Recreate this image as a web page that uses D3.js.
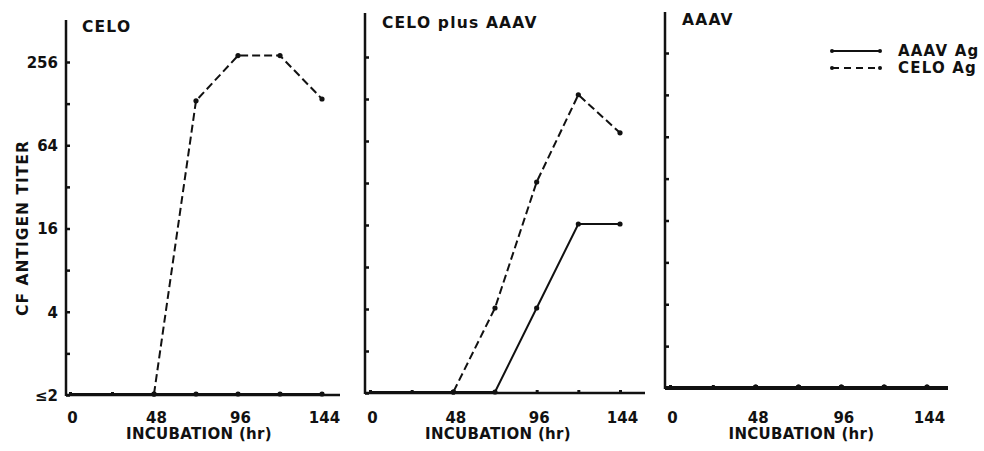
<!DOCTYPE html>
<html>
<head>
<meta charset="utf-8">
<script src="https://cdn.jsdelivr.net/npm/d3@7"></script>
<style>
  body { margin: 0; background: #fff; }
  text { font-family: 'DejaVu Sans', sans-serif; font-weight: bold; fill: #111; }
</style>
</head>
<body>
<div id="container"></div>
<script>
// titer values, 1 stands for "<=2"
const hours = [0, 24, 48, 72, 96, 120, 144];
const celoCeloAg = [1, 1, 1, 132, 280, 280, 136];
const celoAaavAg = [1, 1, 1, 1, 1, 1, 1];
const mixCeloAg = [1, 1, 1, 4, 32, 135, 72];
const mixAaavAg = [1, 1, 1, 1, 4, 16, 16];
const aaavCeloAg = [1, 1, 1, 1, 1, 1, 1];
const aaavAaavAg = [1, 1, 1, 1, 1, 1, 1];
const yTickValues = [1, 2, 4, 8, 16, 32, 64, 128, 256];
const yTickLabels = { 1: '\u22642', 4: '4', 16: '16', 64: '64', 256: '256' };
const xLabelValues = [0, 48, 96, 144];
const xMarkValues = [0, 24, 48, 72, 96, 120, 144];
const panelTitles = ['CELO', 'CELO plus AAAV', 'AAAV'];
const legendLabels = ['AAAV Ag', 'CELO Ag'];

const w = 984;
const h = 451;

const panels = [
  { title: panelTitles[0], celo: celoCeloAg, aaav: celoAaavAg,
    ax: 66, top: 20, base: 395, y256: 62, x0: 70, x144: 322, xEnd: 340, tx: 82, ty: 32, labels: true, bw: 2.5 },
  { title: panelTitles[1], celo: mixCeloAg, aaav: mixAaavAg,
    ax: 365, top: 13, base: 393, y256: 57, x0: 370, x144: 620, xEnd: 645, tx: 382, ty: 28, labels: false, bw: 2.5 },
  { title: panelTitles[2], celo: aaavCeloAg, aaav: aaavAaavAg,
    ax: 665, top: 12, base: 388, y256: 53, x0: 670, x144: 927, xEnd: 948, tx: 682, ty: 25, labels: false, bw: 4 }
];

const svg = d3.select('#container')
  .append('svg')
  .attr('width', w)
  .attr('height', h);

panels.forEach(p => {
  const x = d3.scaleLinear().domain([0, 144]).range([p.x0, p.x144]);
  const y = d3.scaleLog().base(2).domain([1, 256]).range([p.base, p.y256]);
  const g = svg.append('g');

  // axis lines
  g.append('line')
    .attr('x1', p.ax).attr('x2', p.ax)
    .attr('y1', p.top).attr('y2', p.base + 1)
    .attr('stroke', '#111').attr('stroke-width', 2.5);
  g.append('line')
    .attr('x1', p.ax).attr('x2', p.xEnd)
    .attr('y1', p.base).attr('y2', p.base)
    .attr('stroke', '#111').attr('stroke-width', p.bw);

  // y ticks
  const yAxis = d3.axisLeft(y)
    .tickValues(yTickValues)
    .tickSizeInner(-4)
    .tickSizeOuter(0)
    .tickPadding(8)
    .tickFormat(d => (p.labels && yTickLabels[d]) ? yTickLabels[d] : '');
  const ya = g.append('g')
    .attr('transform', `translate(${p.ax},0)`)
    .call(yAxis);
  ya.select('.domain').remove();
  ya.selectAll('line').attr('stroke', '#111').attr('stroke-width', 2.5);
  ya.selectAll('text').style('font-size', '15px').attr('dy', '0.36em');

  // x ticks
  const xMarks = d3.axisBottom(x).tickValues(xMarkValues).tickSize(-3).tickFormat('');
  const xm = g.append('g').attr('transform', `translate(0,${p.base})`).call(xMarks);
  xm.select('.domain').remove();
  xm.selectAll('line').attr('stroke', '#111').attr('stroke-width', 3);

  const xAxis = d3.axisBottom(x).tickValues(xLabelValues).tickSize(0).tickPadding(0);
  const xa = g.append('g').attr('transform', 'translate(0,412)').call(xAxis);
  xa.select('.domain').remove();
  xa.selectAll('text').style('font-size', '15px').attr('dx', 2);

  g.append('text')
    .attr('x', (p.x0 + p.x144) / 2 + 3)
    .attr('y', 439)
    .attr('text-anchor', 'middle')
    .style('font-size', '15px')
    .style('letter-spacing', '0.3px')
    .text('INCUBATION (hr)');

  g.append('text')
    .attr('x', p.tx)
    .attr('y', p.ty)
    .style('font-size', '15.5px')
    .style('letter-spacing', '1.2px')
    .text(p.title);

  const line = d3.line().x(d => x(d[0])).y(d => y(d[1]) - 1);
  const series = [
    { vals: p.aaav, dash: null },
    { vals: p.celo, dash: '8,4' }
  ];
  series.forEach(s => {
    const pts = hours.map((hr, i) => [hr, s.vals[i]]);
    g.append('path')
      .datum(pts)
      .attr('d', line)
      .attr('fill', 'none')
      .attr('stroke', '#111')
      .attr('stroke-width', 2)
      .attr('stroke-dasharray', s.dash);
    g.selectAll(null)
      .data(pts.filter(d => d[1] > 1 || d[0] >= 48))
      .enter()
      .append('circle')
      .attr('cx', d => x(d[0]))
      .attr('cy', d => y(d[1]) - 1)
      .attr('r', 2.6)
      .attr('fill', '#111');
  });
});

// y title
svg.append('text')
  .attr('transform', 'translate(28,228) rotate(-90)')
  .attr('text-anchor', 'middle')
  .style('font-size', '15.5px')
  .style('letter-spacing', '1px')
  .text('CF ANTIGEN TITER');

// legend
const legend = svg.selectAll('.legend')
  .data(legendLabels)
  .enter()
  .append('g')
  .attr('class', 'legend')
  .attr('transform', (d, i) => `translate(0,${51 + i * 17})`);

legend.append('line')
  .attr('x1', 832).attr('x2', 880)
  .attr('y1', 0).attr('y2', 0)
  .attr('stroke', '#111')
  .attr('stroke-width', 2)
  .attr('stroke-dasharray', (d, i) => (i === 1 ? '7,5' : null));

legend.selectAll('circle')
  .data([832, 880])
  .enter()
  .append('circle')
  .attr('cx', d => d)
  .attr('cy', 0)
  .attr('r', 2)
  .attr('fill', '#111');

legend.append('text')
  .attr('x', 898)
  .attr('y', 5)
  .style('font-size', '15px')
  .style('letter-spacing', '1.2px')
  .text(d => d);
</script>
</body>
</html>
